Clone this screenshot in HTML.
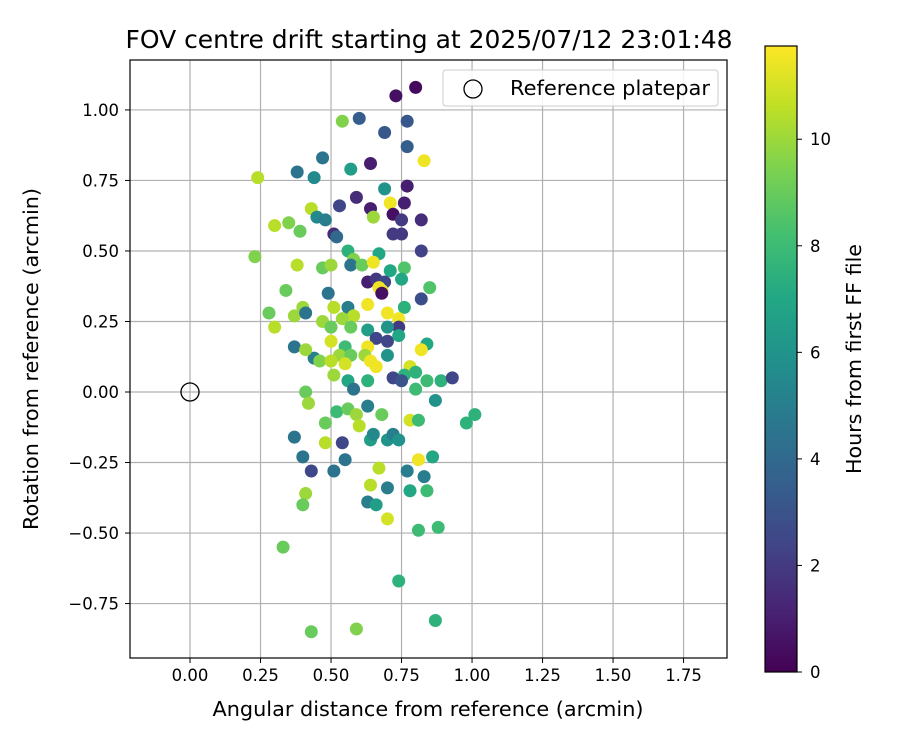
<!DOCTYPE html>
<html><head><meta charset="utf-8"><style>
body{margin:0;background:#fff}
svg text{font-family:"DejaVu Sans","Liberation Sans",sans-serif;fill:#000}
</style></head><body>
<svg id="chart" width="900" height="750" xmlns="http://www.w3.org/2000/svg">
<defs><linearGradient id="vir" x1="0" y1="1" x2="0" y2="0">
<stop offset="0" stop-color="#440154"/><stop offset="0.1" stop-color="#482475"/><stop offset="0.2" stop-color="#414487"/><stop offset="0.3" stop-color="#355f8d"/><stop offset="0.4" stop-color="#2a788e"/><stop offset="0.5" stop-color="#21918c"/><stop offset="0.6" stop-color="#22a884"/><stop offset="0.7" stop-color="#44bf70"/><stop offset="0.8" stop-color="#7ad151"/><stop offset="0.9" stop-color="#bddf26"/><stop offset="1" stop-color="#fde725"/></linearGradient></defs>
<g id="grid"></g>
<g id="pts"></g>
<rect x="130" y="60" width="597" height="598" fill="none" stroke="#000" stroke-width="1.2"/>
<g id="ticks"></g>
<text x="429" y="48" font-size="24.5" text-anchor="middle" textLength="607" lengthAdjust="spacingAndGlyphs">FOV centre drift starting at 2025/07/12 23:01:48</text>
<text x="428" y="716" font-size="20.5" text-anchor="middle" textLength="431" lengthAdjust="spacingAndGlyphs">Angular distance from reference (arcmin)</text>
<text transform="translate(38,359) rotate(-90)" font-size="20.5" text-anchor="middle" textLength="342" lengthAdjust="spacingAndGlyphs">Rotation from reference (arcmin)</text>
<g>
<rect x="443" y="70" width="275" height="36" rx="3" fill="#fff" fill-opacity="0.85" stroke="#ccc"/>
<circle cx="473" cy="89" r="9" fill="none" stroke="#000" stroke-width="1.3"/>
<text x="510" y="95" font-size="20.5" textLength="200" lengthAdjust="spacingAndGlyphs">Reference platepar</text>
</g>
<circle cx="190" cy="392" r="9" fill="none" stroke="#000" stroke-width="1.3"/>
<rect x="765" y="46" width="32" height="626" fill="url(#vir)" stroke="#000" stroke-width="1.2"/>
<g id="cbt"></g>
<text transform="translate(861,359) rotate(-90)" font-size="20.5" text-anchor="middle" textLength="230" lengthAdjust="spacingAndGlyphs">Hours from first FF file</text>
</svg>
<script>
const xTicks=[0,0.25,0.5,0.75,1.0,1.25,1.5,1.75];
const yTicks=[-0.75,-0.5,-0.25,0,0.25,0.5,0.75,1.0];
const cbTicks=[0,2,4,6,8,10];
const xVals=[0.80,0.73,0.54,0.60,0.69,0.77,0.77,0.83,0.47,0.57,0.64,0.24,0.38,0.44,0.77,0.69,0.71,0.76,0.59,0.53,0.64,0.72,0.75,0.82,0.65,0.43,0.45,0.48,0.30,0.35,0.39,0.51,0.52,0.72,0.75,0.82,0.23,0.56,0.58,0.57,0.67,0.61,0.65,0.38,0.47,0.50,0.76,0.71,0.75,0.63,0.66,0.69,0.67,0.68,0.68,0.85,0.34,0.49,0.82,0.63,0.56,0.76,0.40,0.51,0.28,0.37,0.41,0.58,0.70,0.74,0.54,0.30,0.47,0.50,0.57,0.74,0.63,0.70,0.66,0.70,0.74,0.50,0.37,0.44,0.41,0.55,0.63,0.62,0.70,0.84,0.82,0.53,0.57,0.46,0.50,0.55,0.64,0.66,0.78,0.76,0.72,0.75,0.51,0.56,0.63,0.80,0.84,0.89,0.93,0.58,0.80,0.87,0.41,0.42,0.52,0.56,0.59,0.63,0.68,0.78,0.81,0.98,1.01,0.48,0.60,0.37,0.54,0.48,0.64,0.65,0.70,0.72,0.74,0.40,0.55,0.43,0.51,0.67,0.77,0.81,0.86,0.83,0.41,0.64,0.70,0.78,0.84,0.40,0.63,0.66,0.70,0.81,0.88,0.33,0.74,0.43,0.59,0.87];
const yVals=[1.08,1.05,0.96,0.97,0.92,0.96,0.87,0.82,0.83,0.79,0.81,0.76,0.78,0.76,0.73,0.72,0.67,0.67,0.69,0.66,0.65,0.63,0.61,0.61,0.62,0.65,0.62,0.61,0.59,0.60,0.57,0.56,0.55,0.56,0.56,0.50,0.48,0.50,0.47,0.45,0.49,0.45,0.46,0.45,0.44,0.45,0.44,0.43,0.40,0.39,0.40,0.39,0.37,0.36,0.35,0.37,0.36,0.35,0.33,0.31,0.30,0.30,0.30,0.30,0.28,0.27,0.28,0.27,0.28,0.26,0.26,0.23,0.25,0.23,0.23,0.23,0.22,0.23,0.19,0.18,0.20,0.18,0.16,0.12,0.15,0.16,0.16,0.13,0.13,0.17,0.15,0.13,0.13,0.11,0.11,0.10,0.11,0.09,0.09,0.06,0.05,0.04,0.06,0.04,0.04,0.07,0.04,0.04,0.05,0.01,0.01,-0.03,0.00,-0.04,-0.07,-0.06,-0.08,-0.05,-0.08,-0.10,-0.10,-0.11,-0.08,-0.11,-0.12,-0.16,-0.18,-0.18,-0.17,-0.15,-0.17,-0.15,-0.17,-0.23,-0.24,-0.28,-0.28,-0.27,-0.28,-0.24,-0.23,-0.30,-0.36,-0.33,-0.34,-0.35,-0.35,-0.40,-0.39,-0.40,-0.45,-0.49,-0.48,-0.55,-0.67,-0.85,-0.84,-0.81];
const hours=[0.3,0.5,9.5,3.5,3.2,3.2,3.5,11.5,4.5,6.5,1.0,10.5,4.5,5.5,1,6,11.5,1,1.5,2.5,1,0.5,2,1.5,10,10.5,5.5,5,10.5,9.5,9,1.5,4,2,2,2.3,9.5,7.5,9.5,4.5,7,9,11.5,10.5,9,10,8.5,7,7,1,2,2.5,11.5,11.5,0.5,8.5,9,4.5,2.8,11.5,5,7.5,10,10.5,9,10,4.5,10.5,11.5,11.5,10,10.5,10,9,9,2,6.5,6,2.5,2.5,7,11,4.5,5,10,8,11.5,10,6,7,11.5,10,9,9.5,10.5,11,11.5,11.5,11,7.5,2.5,3,10,7,7.5,7.5,8,7.5,2.5,4.5,8,6,9,10,8,9,10,5,9,11,8,7.5,7.5,9,10.5,4.5,2.5,10.5,6.5,5.5,6,5,6,4.5,4.5,2.5,4.5,10.5,5,11.5,7,5,10,10.5,5,7,8,9,5,6.5,11,8,8,9,7.5,9,9.5,7.5];
const NS='http://www.w3.org/2000/svg';
const X0=130,X1=727,XMIN=-0.2128,XMAX=1.904,Y0=60,Y1=658,YMIN=-0.943,YMAX=1.177;
const HMAX=11.75;
function sx(v){return X0+(v-XMIN)/(XMAX-XMIN)*(X1-X0);}
function sy(v){return Y1-(v-YMIN)/(YMAX-YMIN)*(Y1-Y0);}
function cy(h){return 672-h/HMAX*626;}
const vir=[[68,1,84],[72,36,117],[65,68,135],[53,95,141],[42,120,142],[33,145,140],[34,168,132],[68,191,112],[122,209,81],[189,223,38],[253,231,37]];
function color(h){let t=Math.max(0,Math.min(1,h/HMAX))*10;let i=Math.min(9,Math.floor(t));const f=t-i;const c=vir[i].map((a,k)=>Math.round(a+(vir[i+1][k]-a)*f));return 'rgb('+c.join(',')+')';}
function el(tag,attrs,parent){const e=document.createElementNS(NS,tag);for(const k in attrs)e.setAttribute(k,attrs[k]);parent.appendChild(e);return e;}
const grid=document.getElementById('grid'),ticks=document.getElementById('ticks');
xTicks.forEach(v=>{const x=sx(v);
const g=el('line',{x1:x,x2:x,y1:Y0,y2:Y1,stroke:'#b0b0b0','stroke-width':1.2},grid);


const t=el('line',{x1:x,x2:x,y1:Y1,y2:Y1+5,stroke:'#000'},ticks);


const l=el('text',{x:x,y:Y1+23,'font-size':16.5,'text-anchor':'middle'},ticks);l.textContent=v.toFixed(2);

});
yTicks.forEach(v=>{const y=sy(v);
const g=el('line',{x1:X0,x2:X1,y1:y,y2:y,stroke:'#b0b0b0','stroke-width':1.2},grid);


const t=el('line',{x1:X0-5,x2:X0,y1:y,y2:y,stroke:'#000'},ticks);


const l=el('text',{x:X0-11,y:y+6,'font-size':16.5,'text-anchor':'end'},ticks);l.textContent=(v<0?'\u2212':'')+Math.abs(v).toFixed(2);

});
const pts=document.getElementById('pts');
xVals.forEach((v,i)=>{const c=el('circle',{cx:sx(v),cy:sy(yVals[i]),r:6.5,fill:color(hours[i])},pts);

});
const cbt=document.getElementById('cbt');
cbTicks.forEach(h=>{const y=cy(h);
const t=el('line',{x1:797,x2:802,y1:y,y2:y,stroke:'#000'},cbt);


const l=el('text',{x:810,y:y+6,'font-size':16.5},cbt);l.textContent=h;

});
</script>
</body></html>
